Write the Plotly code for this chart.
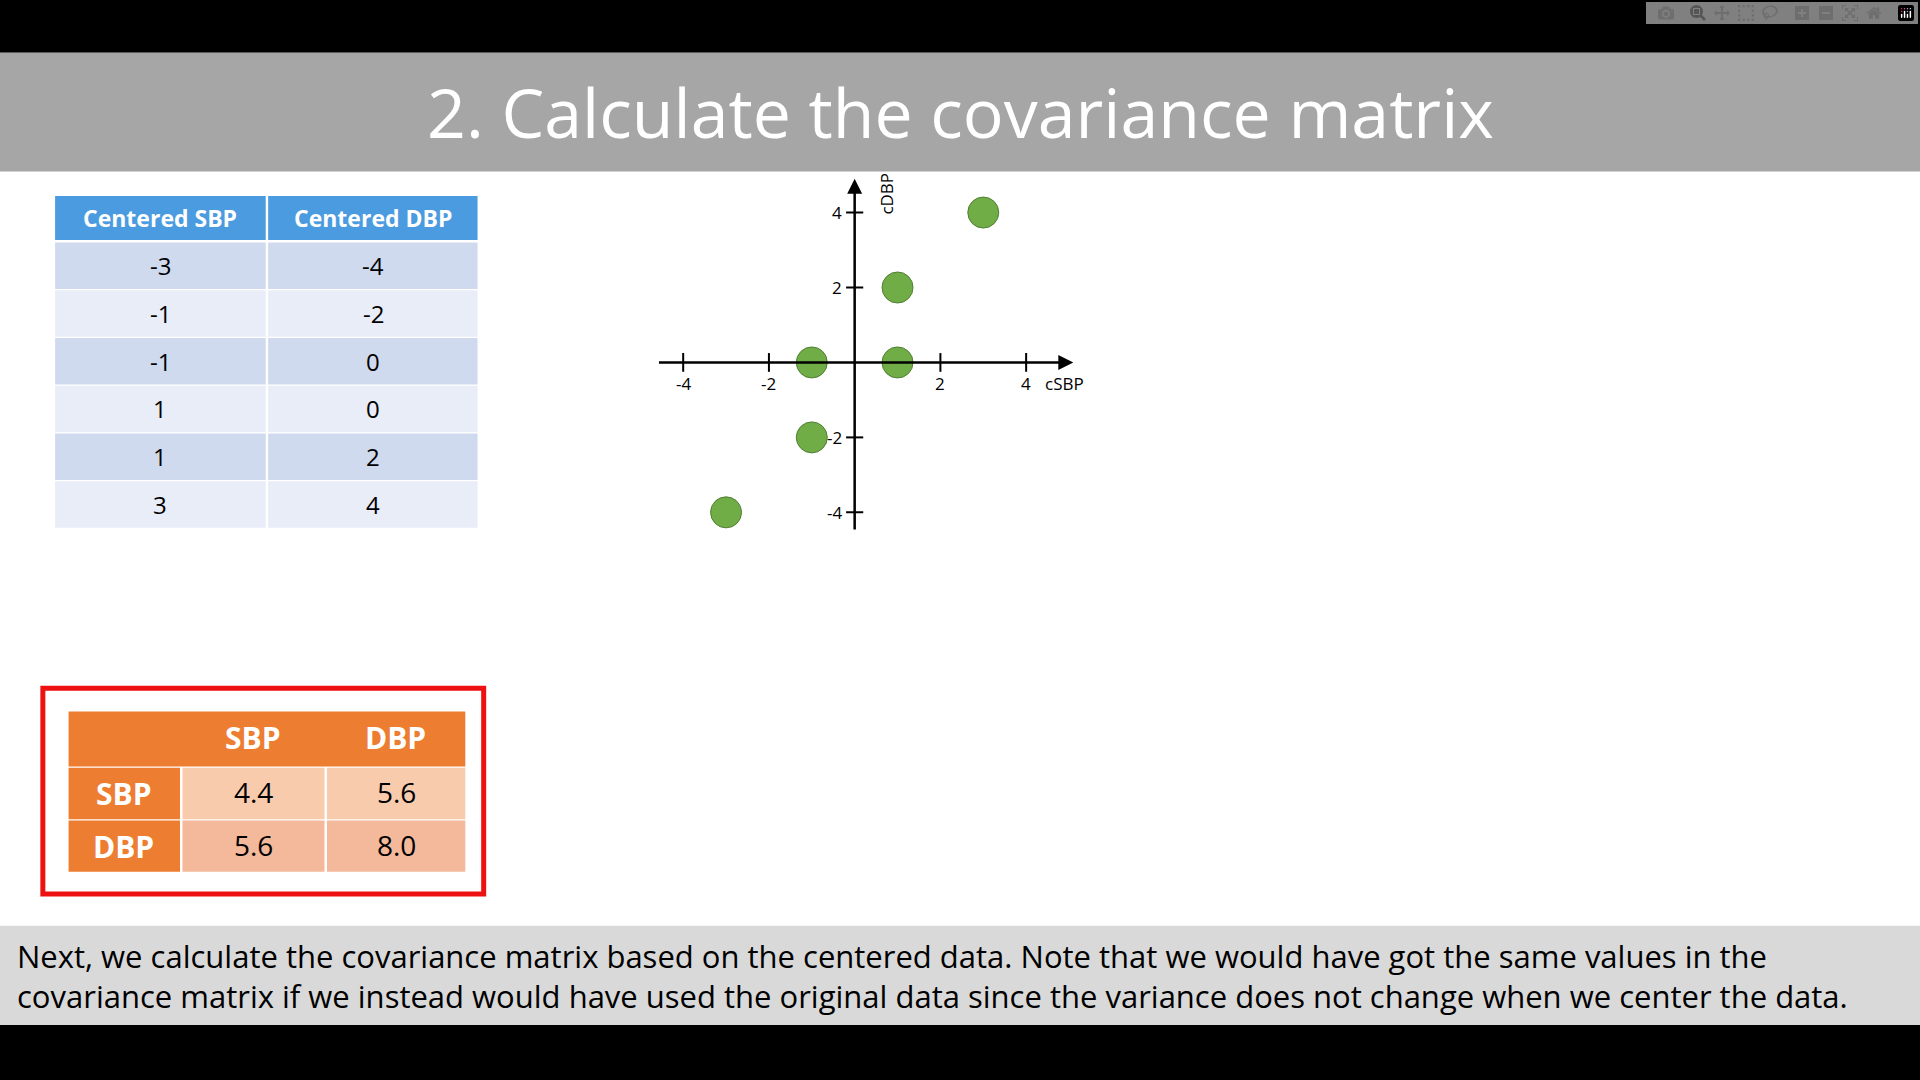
import plotly.graph_objects as go

W, H = 1920, 1080
S = 1920 / 1568

csbp = [-3, -1, -1, 1, 1, 3]
cdbp = [-4, -2, 0, 0, 2, 4]
cov_labels = ["SBP", "DBP"]
cov = [[4.4, 5.6], [5.6, 8.0]]
title = "2. Calculate the covariance matrix"
footer = ("Next, we calculate the covariance matrix based on the centered data. Note that we would have got the same values in the<br>"
          "covariance matrix if we instead would have used the original data since the variance does not change when we center the data.")

def px(x): return x * S / W
def py(y): return 1 - y * S / H

shapes, ann = [], []
def rect(x0, y0, x1, y1, fill, line=None, lw=0):
    shapes.append(dict(type="rect", xref="paper", yref="paper", x0=px(x0), x1=px(x1), y0=py(y1), y1=py(y0),
                       fillcolor=fill, line=dict(color=line or fill, width=lw), layer="below"))
def text(x, y, t, size, color="black", xa="center", bold=False, family="Open Sans"):
    ann.append(dict(xref="paper", yref="paper", x=px(x), y=py(y), text=f"<b>{t}</b>" if bold else t, showarrow=False,
                    xanchor=xa, yanchor="middle", font=dict(size=size, color=color, family=family), align="left"))

rect(0, 0, 1568, 43, "black")
rect(0, 43, 1568, 140, "#a6a6a6")
rect(0, 756, 1568, 837, "#d9d9d9")
rect(0, 837, 1568, 882, "black")
text(784, 91, title, 68, "white")
text(12, 797, footer, 31, "black", xa="left")

rect(45, 160, 217, 196, "#4a9be0"); rect(219, 160, 390, 196, "#4a9be0")
text(131, 178, "Centered SBP", 23, "white", bold=True)
text(305, 178, "Centered DBP", 23, "white", bold=True)
for i, (a, b) in enumerate(zip(csbp, cdbp)):
    y0 = 198 + i * 39
    fill = "#cfdaee" if i % 2 == 0 else "#e8edf7"
    rect(45, y0, 217, y0 + 38, fill); rect(219, y0, 390, y0 + 38, fill)
    text(131, y0 + 19, str(a), 24); text(305, y0 + 19, str(b), 24)

rect(35, 562, 395, 730, "white", "#ee1111", 5)
rect(56, 581, 380, 626, "#ed7d31")
text(207, 602, cov_labels[0], 30, "white", bold=True)
text(323, 602, cov_labels[1], 30, "white", bold=True)
for i in range(2):
    y0 = 627 + i * 43
    rect(56, y0, 147, y0 + 42, "#ed7d31")
    text(101, y0 + 21, cov_labels[i], 30, "white", bold=True)
    for j, (x0, x1) in enumerate([(149, 265), (267, 380)]):
        rect(x0, y0, x1, y0 + 42, "#f8cbad" if i == 0 else "#f4b89a")
        text((x0 + x1) / 2, y0 + 20, f"{cov[i][j]:.1f}", 28)

fig = go.Figure(go.Scatter(x=csbp, y=cdbp, mode="markers",
                           marker=dict(size=31, color="#70ad47", line=dict(color="#507e32", width=1))))

ax = dict(xref="x", yref="y", showarrow=True, arrowhead=2, arrowsize=1.2, arrowwidth=2.5, arrowcolor="black",
          axref="x", ayref="y", text="")
ann.append(dict(ax, x=5.1, y=0, ax=-4.6, ay=0))
ann.append(dict(ax, x=0, y=4.9, ax=0, ay=-4.5))
tf = dict(size=17, family="Open Sans", color="black")
for v in [-4, -2, 2, 4]:
    shapes.append(dict(type="line", xref="x", yref="y", x0=v, x1=v, y0=-0.25, y1=0.25, line=dict(color="black", width=2)))
    shapes.append(dict(type="line", xref="x", yref="y", x0=-0.2, x1=0.2, y0=v, y1=v, line=dict(color="black", width=2)))
    ann.append(dict(xref="x", yref="y", x=v, y=-0.55, text=str(v), showarrow=False, font=tf))
    ann.append(dict(xref="x", yref="y", x=-0.25, y=v, text=str(v), showarrow=False, xanchor="right", font=tf))
ann.append(dict(xref="x", yref="y", x=4.4, y=-0.55, text="cSBP", showarrow=False, xanchor="left", font=tf))
ann.append(dict(xref="x", yref="y", x=0.75, y=4.5, text="cDBP", showarrow=False, textangle=-90, font=tf))

fig.update_layout(width=W, height=H, margin=dict(l=0, r=0, t=0, b=0), paper_bgcolor="white", plot_bgcolor="rgba(0,0,0,0)",
                  showlegend=False, shapes=shapes, annotations=ann,
                  xaxis=dict(range=[-5, 6], domain=[0.3335, 0.5791], visible=False),
                  yaxis=dict(range=[-5, 5], domain=[0.4909, 0.8379], visible=False))
fig.write_html("out.html")
with open("out.html", encoding="utf-8") as f:
    html = f.read()
html = html.replace("<body>", '<body style="margin:0;overflow:hidden">', 1)
with open("out.html", "w", encoding="utf-8") as f:
    f.write(html)
